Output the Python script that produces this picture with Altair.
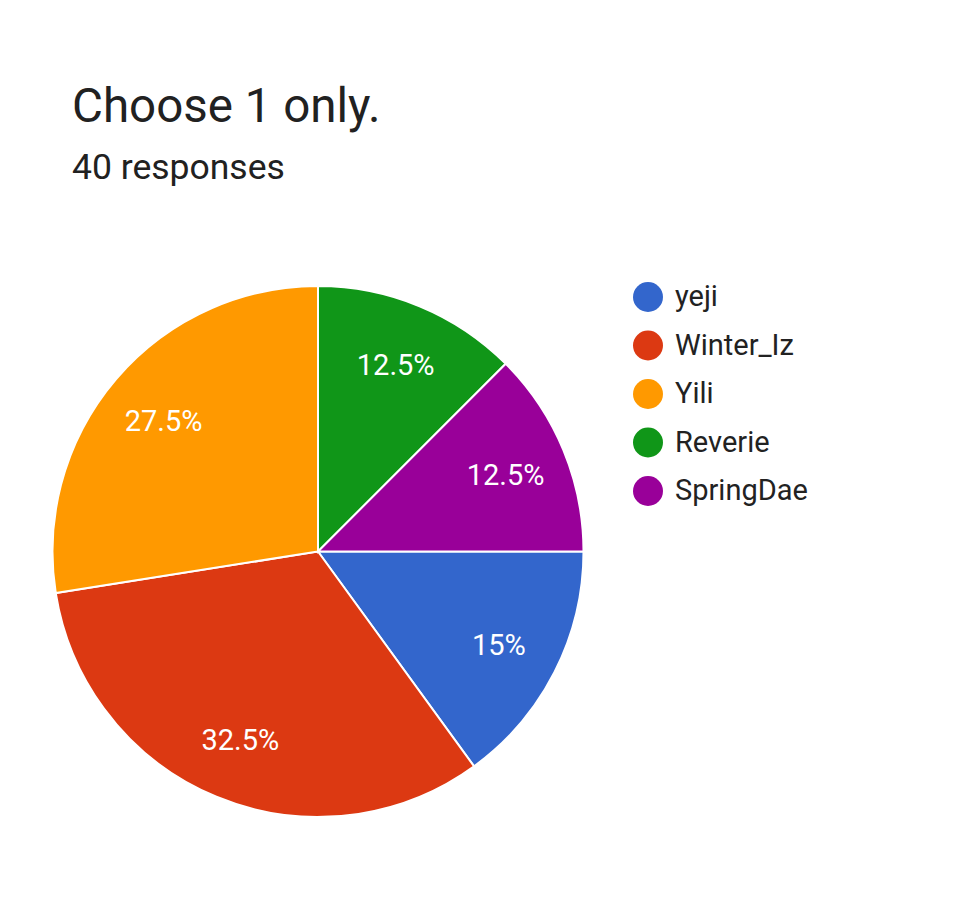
import math
import altair as alt
import pandas as pd

names = ["yeji", "Winter_Iz", "Yili", "Reverie", "SpringDae"]
counts = [6, 13, 11, 5, 5]
pct_labels = ["15%", "32.5%", "27.5%", "12.5%", "12.5%"]
colors = ["#3366cc", "#dc3912", "#ff9900", "#109618", "#990099"]
title_text = "Choose 1 only."
subtitle_text = "40 responses"

df = pd.DataFrame({
    "name": names,
    "count": counts,
    "label": pct_labels,
    "idx": list(range(len(names))),
})

CX, CY, R = 310, 543.5, 265.5

theta = alt.Theta(
    "count:Q",
    stack=True,
    scale=alt.Scale(range=[math.pi / 2, math.pi / 2 + 2 * math.pi]),
)

legend = alt.Legend(
    title=None,
    orient="none",
    legendX=625,
    legendY=274,
    symbolType="circle",
    symbolSize=900,
    symbolStrokeWidth=0,
    symbolOpacity=1,
    labelFont="Roboto",
    labelFontSize=29,
    labelColor="#222222",
    labelOffset=12,
    rowPadding=18.5,
    padding=0,
)

color = alt.Color(
    "name:N",
    scale=alt.Scale(domain=names, range=colors),
    sort=names,
    legend=legend,
)

base = alt.Chart(df).encode(
    theta=theta,
    order=alt.Order("idx:Q"),
    x=alt.value(CX),
    y=alt.value(CY),
)

arcs = base.mark_arc(outerRadius=R, stroke="white", strokeWidth=2).encode(color=color)

labels = base.mark_text(
    radius=203, font="Roboto", fontSize=29, fill="white", dy=2
).encode(text="label:N")

title_layer = alt.Chart(pd.DataFrame({"t": [title_text]})).mark_text(
    font="Roboto", fontSize=47.5, color="#212121", align="left", baseline="alphabetic"
).encode(text="t:N", x=alt.value(64), y=alt.value(114))

subtitle_layer = alt.Chart(pd.DataFrame({"t": [subtitle_text]})).mark_text(
    font="Roboto", fontSize=35.5, color="#212121", align="left", baseline="alphabetic"
).encode(text="t:N", x=alt.value(64), y=alt.value(171))

chart = alt.layer(arcs, labels, title_layer, subtitle_layer).properties(
    width=950,
    height=908,
    autosize=alt.AutoSizeParams(type="none"),
    padding=0,
).configure_view(strokeWidth=0)

chart.save("out.html", embed_options={"renderer": "svg", "actions": False})
